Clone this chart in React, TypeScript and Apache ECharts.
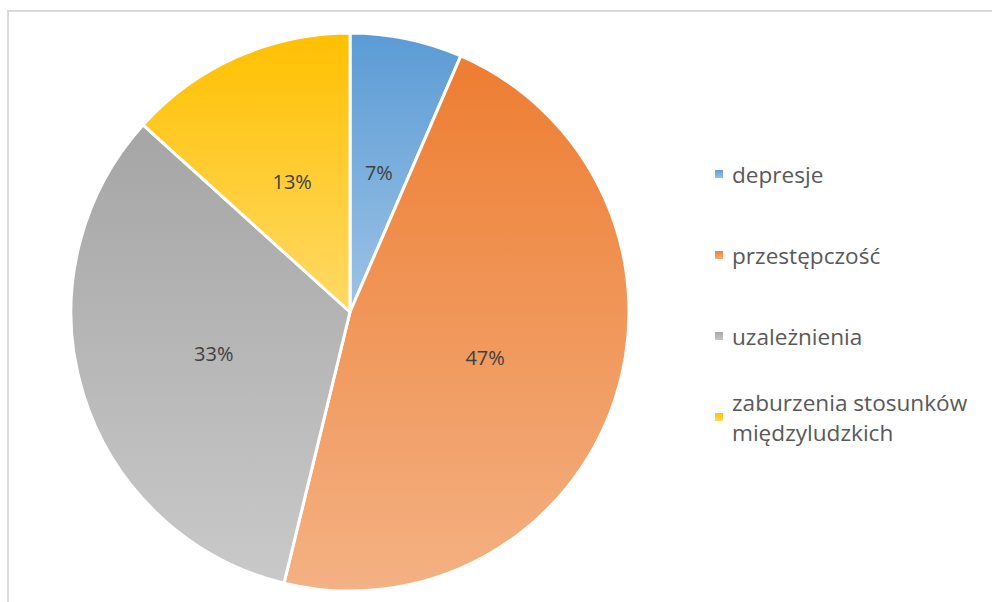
import React, { useEffect, useRef } from "react";
import * as echarts from "echarts";

const categories = ["depresje", "przestępczość", "uzależnienia", "zaburzenia stosunków międzyludzkich"];
const values = [6.5, 47.3, 32.9, 13.3];
const topColors = ["#5B9BD5", "#ED7D31", "#A5A5A5", "#FFC000"];
const bottomColors = ["#9DC3E6", "#F4B183", "#C9C9C9", "#FFD966"];

const FONT = "'Open Sans', 'Noto Sans', sans-serif";

export default function App() {
  const ref = useRef<HTMLDivElement>(null);
  useEffect(() => {
    if (!ref.current) return;
    const chart = echarts.init(ref.current, null, { renderer: "svg" });
    const grad = (i: number) => ({
      type: "linear",
      x: 0,
      y: 0,
      x2: 0,
      y2: 1,
      colorStops: [
        { offset: 0, color: topColors[i] },
        { offset: 1, color: bottomColors[i] },
      ],
    });
    const legendText = {
      fontFamily: FONT,
      fontSize: 22.6,
      lineHeight: 30,
      color: "#595959",
    };
    chart.setOption({
      animation: false,
      backgroundColor: "#ffffff",
      graphic: [
        {
          type: "rect",
          silent: true,
          shape: { x: 8, y: 11, width: 1100, height: 800 },
          style: { fill: "none", stroke: "#d9d9d9", lineWidth: 2 },
        },
      ],
      legend: [
        {
          orient: "vertical",
          left: 713,
          top: 159,
          padding: 0,
          itemWidth: 10,
          itemHeight: 10,
          itemGap: 51,
          icon: "rect",
          selectedMode: false,
          data: categories.slice(0, 3),
          textStyle: { ...legendText, padding: [0, 0, 0, 3] },
        },
        {
          orient: "vertical",
          left: 713,
          top: 372,
          padding: 0,
          itemWidth: 10,
          itemHeight: 10,
          icon: "rect",
          selectedMode: false,
          data: categories.slice(3),
          formatter: (name: string) => name.replace(" międzyludzkich", "\nmiędzyludzkich"),
          textStyle: { ...legendText, padding: [30, 0, 0, 3] },
        },
      ],
      series: [
        {
          type: "pie",
          center: [350, 312],
          radius: 279,
          startAngle: 90,
          clockwise: true,
          percentPrecision: 0,
          silent: true,
          label: {
            show: true,
            position: "inside",
            formatter: "{d}%",
            fontFamily: FONT,
            fontSize: 20,
            color: "#404040",
          },
          labelLine: { show: false },
          itemStyle: { borderColor: "#ffffff", borderWidth: 3 },
          data: categories.map((name, i) => ({
            name,
            value: values[i],
            itemStyle: { color: grad(i) },
          })),
        },
      ],
    });
    return () => chart.dispose();
  }, []);
  return (
    <div
      ref={ref}
      style={{ position: "fixed", left: 0, top: 0, width: 992, height: 602 }}
    />
  );
}
